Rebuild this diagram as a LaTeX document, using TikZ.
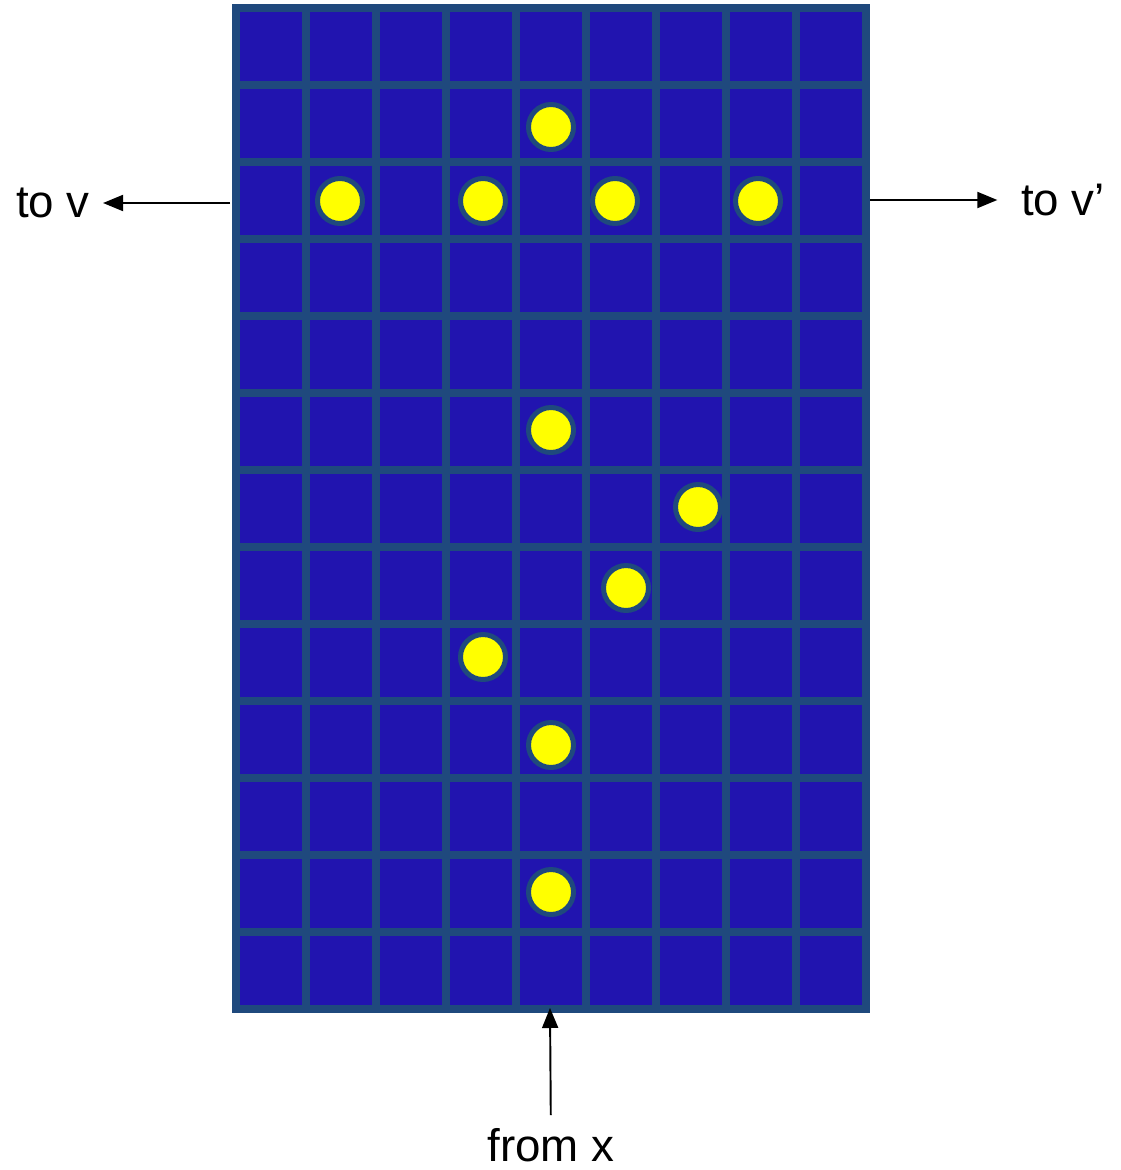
\documentclass[tikz,border=0pt]{standalone}
\usepackage{fontspec}
\setmainfont{Liberation Sans}
\usetikzlibrary{arrows.meta, positioning}
\definecolor{boardblue}{RGB}{33,20,175}
\definecolor{gridblue}{RGB}{31,73,125}
\definecolor{dotyellow}{RGB}{255,255,0}

\begin{document}
\begin{tikzpicture}
  [x=0.02cm,y=-0.02cm,
   every node/.style={font=\fontsize{26}{31}\selectfont},
   dot/.style={circle,fill=dotyellow,draw=gridblue,line width=0.1cm,
     minimum size=0.9cm,inner sep=0pt},
   conn/.style={-{Triangle[length=4mm,width=3.2mm]},line width=1.1pt}]
  \useasboundingbox (0,0) rectangle (1120,1170);

  % the board
  \fill[boardblue] (236,8) rectangle (866,1009);
  \begin{scope}[gridblue,line width=0.16cm,line cap=rect]
    \foreach \i in {0,...,9}
      \draw (236+70*\i,8) -- (236+70*\i,1009);
    \foreach \j in {0,...,13}
      \draw (236,8+77*\j) -- (866,8+77*\j);
  \end{scope}

  % the dots
  \foreach \name/\px/\py in {d1/551/127,d2/340/201,d3/483/201,d4/615/201,
      d5/758/201,d6/551/430,d7/698/507,d8/626/588,d9/483/657,d10/551/745,
      d11/551/892}
    \node[dot] (\name) at (\px,\py) {};

  % in and out
  \coordinate (outv)  at (230,203);
  \coordinate (outvp) at (870,200);
  \coordinate (inx)   at (550,1008);
  \node (tov)   at (53,203)   {to v};
  \node (tovp)  at (1063,200) {to v’};
  \node (fromx) at (551,1145) {from x};

  \draw[conn,shorten >=4pt] (outv) -- (tov);
  \draw[conn,shorten >=10pt] (outvp) -- (tovp);
  \draw[conn,shorten <=4pt] (fromx) -- (inx);

\end{tikzpicture}
\end{document}
